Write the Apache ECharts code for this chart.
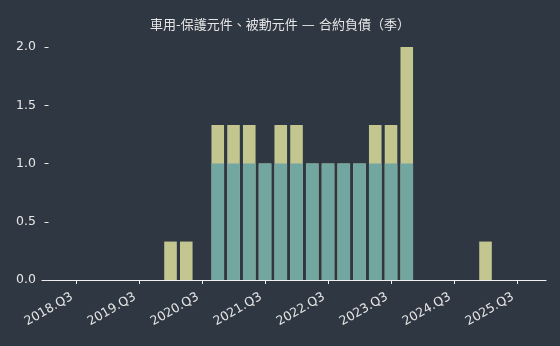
<!DOCTYPE html>
<html>
<head>
<meta charset="utf-8">
<script src="https://cdn.jsdelivr.net/npm/echarts@6/dist/echarts.min.js"></script>
<style>
html,body{margin:0;padding:0;background:#2f3742;}
#c{width:560px;height:346px;}
</style>
</head>
<body>
<div id="c"></div>
<script>
const titleText = '車用-保護元件、被動元件 — 合約負債（季）';
const quarters = [
  '2018.Q1','2018.Q2','2018.Q3','2018.Q4',
  '2019.Q1','2019.Q2','2019.Q3','2019.Q4',
  '2020.Q1','2020.Q2','2020.Q3','2020.Q4',
  '2021.Q1','2021.Q2','2021.Q3','2021.Q4',
  '2022.Q1','2022.Q2','2022.Q3','2022.Q4',
  '2023.Q1','2023.Q2','2023.Q3','2023.Q4',
  '2024.Q1','2024.Q2','2024.Q3','2024.Q4',
  '2025.Q1','2025.Q2','2025.Q3','2025.Q4'
];
const baseValues = [
  0,0,0,0, 0,0,0,0, 0,0,0,1, 1,1,1,1,
  1,1,1,1, 1,1,1,1, 0,0,0,0, 0,0,0,0
];
const topValues = [
  0,0,0,0, 0,0,0,0, 0.33,0.33,0,0.33, 0.33,0.33,0,0.33,
  0.33,0,0,0, 0,0.33,0.33,1, 0,0,0,0, 0.33,0,0,0
];
const tickLabels = ['2018.Q3','2019.Q3','2020.Q3','2021.Q3','2022.Q3','2023.Q3','2024.Q3','2025.Q3'];
const yTicks = [0, 0.5, 1.0, 1.5, 2.0];

const tickIdx = tickLabels.map(l => quarters.indexOf(l));
const chart = echarts.init(document.getElementById('c'));
const font = '"DejaVu Sans", "Noto Sans CJK TC", sans-serif';
const labelColor = '#e6e6e6';
chart.setOption({
  backgroundColor: '#2f3742',
  animation: false,
  title: {
    text: titleText,
    left: 'center',
    top: 14,
    textStyle: { color: labelColor, fontSize: 13, fontWeight: 'normal', fontFamily: font }
  },
  grid: { left: 42, right: 14, top: 47, bottom: 66, containLabel: false },
  xAxis: {
    type: 'value',
    min: -0.16,
    max: quarters.length - 1 + 0.84,
    axisLine: { show: true, lineStyle: { color: '#f0f0f0', width: 1.2 } },
    axisTick: { show: true, length: 4, customValues: tickIdx, lineStyle: { color: '#f0f0f0' } },
    axisLabel: { show: false },
    splitLine: { show: false }
  },
  yAxis: {
    type: 'value',
    min: yTicks[0],
    max: yTicks[yTicks.length - 1],
    interval: 0.5,
    axisLine: { show: false },
    axisTick: { show: true, inside: true, length: 4, lineStyle: { color: labelColor } },
    axisLabel: {
      color: labelColor, fontSize: 12.5, fontFamily: font, margin: 6,
      formatter: v => v.toFixed(1)
    },
    splitLine: { show: false }
  },
  series: [
    {
      name: 'total', type: 'bar', barWidth: 12.6,
      itemStyle: { color: '#c3c68f' },
      data: baseValues.map((v, i) => [i, v + topValues[i]])
    },
    {
      name: 'base', type: 'bar', barWidth: 12.6, barGap: '-100%',
      itemStyle: { color: '#72a6a0' },
      data: baseValues.map((v, i) => [i, v])
    }
  ]
});
// rotated x-axis tick labels, anchored at tick positions via the axis scale
const labelGraphics = tickLabels.map((lab, k) => {
  const p = chart.convertToPixel({ gridIndex: 0 }, [tickIdx[k], 0]);
  return {
    type: 'text',
    x: p[0] - 4,
    y: p[1] + 16,
    rotation: 30 * Math.PI / 180,
    style: {
      text: lab,
      fill: labelColor,
      font: '12.5px ' + font,
      align: 'right',
      verticalAlign: 'middle'
    }
  };
});
chart.setOption({ graphic: labelGraphics });
</script>
</body>
</html>
